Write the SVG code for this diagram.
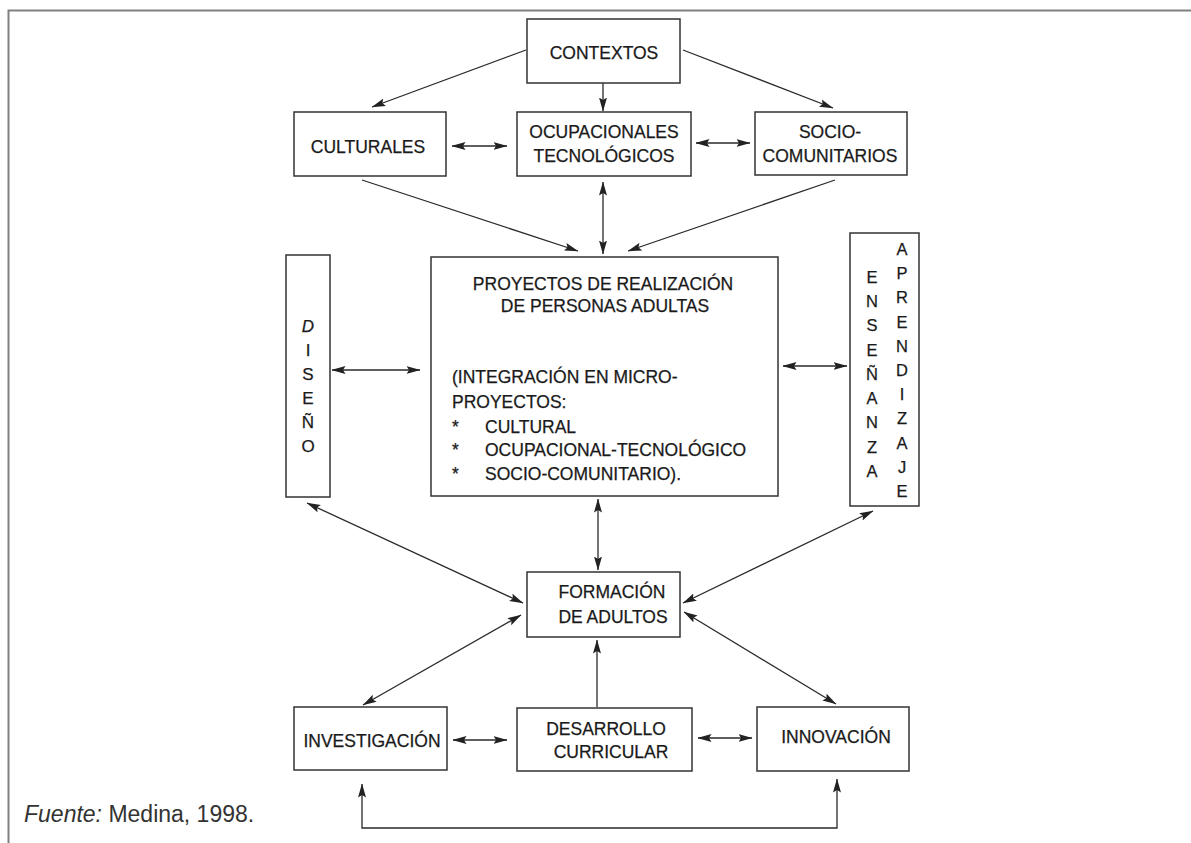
<svg xmlns="http://www.w3.org/2000/svg" width="1191" height="843" viewBox="0 0 1191 843">
<style>
.box{fill:#fff;stroke:#333;stroke-width:1.5}
.t{font-family:"Liberation Sans",Arial,sans-serif;font-size:17.5px;fill:#1a1a1a;stroke:#1a1a1a;stroke-width:0.25}
.c{text-anchor:middle}
.v{font-family:"Liberation Sans",Arial,sans-serif;fill:#1a1a1a;stroke:#1a1a1a;stroke-width:0.25;text-anchor:middle}
.ln{fill:none;stroke:#2a2a2a;stroke-width:1.3}
.frame{fill:none;stroke:#808080;stroke-width:2}
</style>
<defs>
<marker id="ah" viewBox="0 0 14 9" refX="13.5" refY="4.5" markerWidth="14" markerHeight="9" markerUnits="userSpaceOnUse" orient="auto-start-reverse">
<path d="M0,0.5 L14,4.5 L0,8.5 L2.5,4.5 z" fill="#222"/>
</marker>
</defs>
<rect width="1191" height="843" fill="#fff"/>
<path class="frame" d="M8.5,843 V10.5 H1191"/>

<g id="connectors">
<line class="ln" x1="526" y1="50" x2="372" y2="107" marker-end="url(#ah)"/>
<line class="ln" x1="603" y1="83" x2="603" y2="111" marker-end="url(#ah)"/>
<line class="ln" x1="683" y1="50" x2="833" y2="108" marker-end="url(#ah)"/>
<line class="ln" x1="452" y1="146" x2="507" y2="146" marker-start="url(#ah)" marker-end="url(#ah)"/>
<line class="ln" x1="696" y1="143" x2="750" y2="143" marker-start="url(#ah)" marker-end="url(#ah)"/>
<line class="ln" x1="362" y1="180" x2="578" y2="251" marker-end="url(#ah)"/>
<line class="ln" x1="603" y1="182" x2="603" y2="254" marker-start="url(#ah)" marker-end="url(#ah)"/>
<line class="ln" x1="835" y1="180" x2="628" y2="251" marker-end="url(#ah)"/>
<line class="ln" x1="332" y1="370" x2="420" y2="370" marker-start="url(#ah)" marker-end="url(#ah)"/>
<line class="ln" x1="783" y1="366" x2="847" y2="366" marker-start="url(#ah)" marker-end="url(#ah)"/>
<line class="ln" x1="598" y1="499" x2="598" y2="570" marker-start="url(#ah)" marker-end="url(#ah)"/>
<line class="ln" x1="307" y1="503" x2="523" y2="603" marker-start="url(#ah)" marker-end="url(#ah)"/>
<line class="ln" x1="873" y1="511" x2="683" y2="603" marker-start="url(#ah)" marker-end="url(#ah)"/>
<line class="ln" x1="521" y1="615" x2="363" y2="705" marker-start="url(#ah)" marker-end="url(#ah)"/>
<line class="ln" x1="684" y1="612" x2="836" y2="704" marker-start="url(#ah)" marker-end="url(#ah)"/>
<line class="ln" x1="597" y1="707" x2="597" y2="640" marker-end="url(#ah)"/>
<line class="ln" x1="453" y1="740" x2="507" y2="740" marker-start="url(#ah)" marker-end="url(#ah)"/>
<line class="ln" x1="698" y1="738" x2="752" y2="738" marker-start="url(#ah)" marker-end="url(#ah)"/>
<polyline class="ln" points="362,784 362,828 837,828 837,779" marker-start="url(#ah)" marker-end="url(#ah)"/>
</g>

<g id="contextos">
<rect class="box" x="527" y="19" width="153" height="64"/>
<text class="t c" x="604" y="59">CONTEXTOS</text>
</g>
<g id="culturales">
<rect class="box" x="294" y="112" width="152" height="64"/>
<text class="t c" x="368" y="153">CULTURALES</text>
</g>
<g id="ocupacionales">
<rect class="box" x="517" y="112" width="174" height="64"/>
<text class="t c" x="604" y="138">OCUPACIONALES</text>
<text class="t c" x="604" y="162">TECNOLÓGICOS</text>
</g>
<g id="socio">
<rect class="box" x="755" y="112" width="152" height="63"/>
<text class="t c" x="830" y="138">SOCIO-</text>
<text class="t c" x="830" y="162">COMUNITARIOS</text>
</g>
<g id="diseno">
<rect class="box" x="286" y="255" width="44" height="242"/>
<text class="v" x="308" style="font-size:17px"><tspan x="308" y="332" font-style="italic">D</tspan><tspan x="308" y="356">I</tspan><tspan x="308" y="380">S</tspan><tspan x="308" y="404">E</tspan><tspan x="308" y="428">Ñ</tspan><tspan x="308" y="452">O</tspan></text>
</g>
<g id="proyectos">
<rect class="box" x="431" y="257" width="347" height="239"/>
<text class="t c" x="603" y="290">PROYECTOS DE REALIZACIÓN</text>
<text class="t c" x="605" y="312">DE PERSONAS ADULTAS</text>
<text class="t" x="452" y="383">(INTEGRACIÓN EN MICRO-</text>
<text class="t" x="452" y="408">PROYECTOS:</text>
<text class="t" x="452" y="433">*</text>
<text class="t" x="485" y="433">CULTURAL</text>
<text class="t" x="452" y="456">*</text>
<text class="t" x="485" y="456">OCUPACIONAL-TECNOLÓGICO</text>
<text class="t" x="452" y="480">*</text>
<text class="t" x="485" y="480">SOCIO-COMUNITARIO).</text>
</g>
<g id="ensenanza-aprendizaje">
<rect class="box" x="850" y="233" width="69" height="273"/>
<text class="v" style="font-size:16.5px"><tspan x="872" y="283">E</tspan><tspan x="872" y="307">N</tspan><tspan x="872" y="331">S</tspan><tspan x="872" y="356">E</tspan><tspan x="872" y="380">Ñ</tspan><tspan x="872" y="404">A</tspan><tspan x="872" y="428">N</tspan><tspan x="872" y="453">Z</tspan><tspan x="872" y="477">A</tspan></text>
<text class="v" style="font-size:16.5px"><tspan x="902" y="255">A</tspan><tspan x="902" y="279">P</tspan><tspan x="902" y="303">R</tspan><tspan x="902" y="328">E</tspan><tspan x="902" y="352">N</tspan><tspan x="902" y="376">D</tspan><tspan x="902" y="400">I</tspan><tspan x="902" y="424">Z</tspan><tspan x="902" y="449">A</tspan><tspan x="902" y="473">J</tspan><tspan x="902" y="497">E</tspan></text>
</g>
<g id="formacion">
<rect class="box" x="527" y="572" width="153" height="65"/>
<text class="t c" x="612" y="598">FORMACIÓN</text>
<text class="t c" x="613" y="623">DE ADULTOS</text>
</g>
<g id="investigacion">
<rect class="box" x="294" y="707" width="153" height="63"/>
<text class="t c" x="372" y="747">INVESTIGACIÓN</text>
</g>
<g id="desarrollo">
<rect class="box" x="517" y="708" width="175" height="63"/>
<text class="t c" x="606" y="735">DESARROLLO</text>
<text class="t c" x="611" y="758">CURRICULAR</text>
</g>
<g id="innovacion">
<rect class="box" x="757" y="707" width="152" height="64"/>
<text class="t c" x="836" y="743">INNOVACIÓN</text>
</g>
<text x="24" y="822" style="font-family:'Liberation Sans',Arial,sans-serif;font-size:23px;fill:#333"><tspan font-style="italic">Fuente:</tspan> Medina, 1998.</text>
</svg>
